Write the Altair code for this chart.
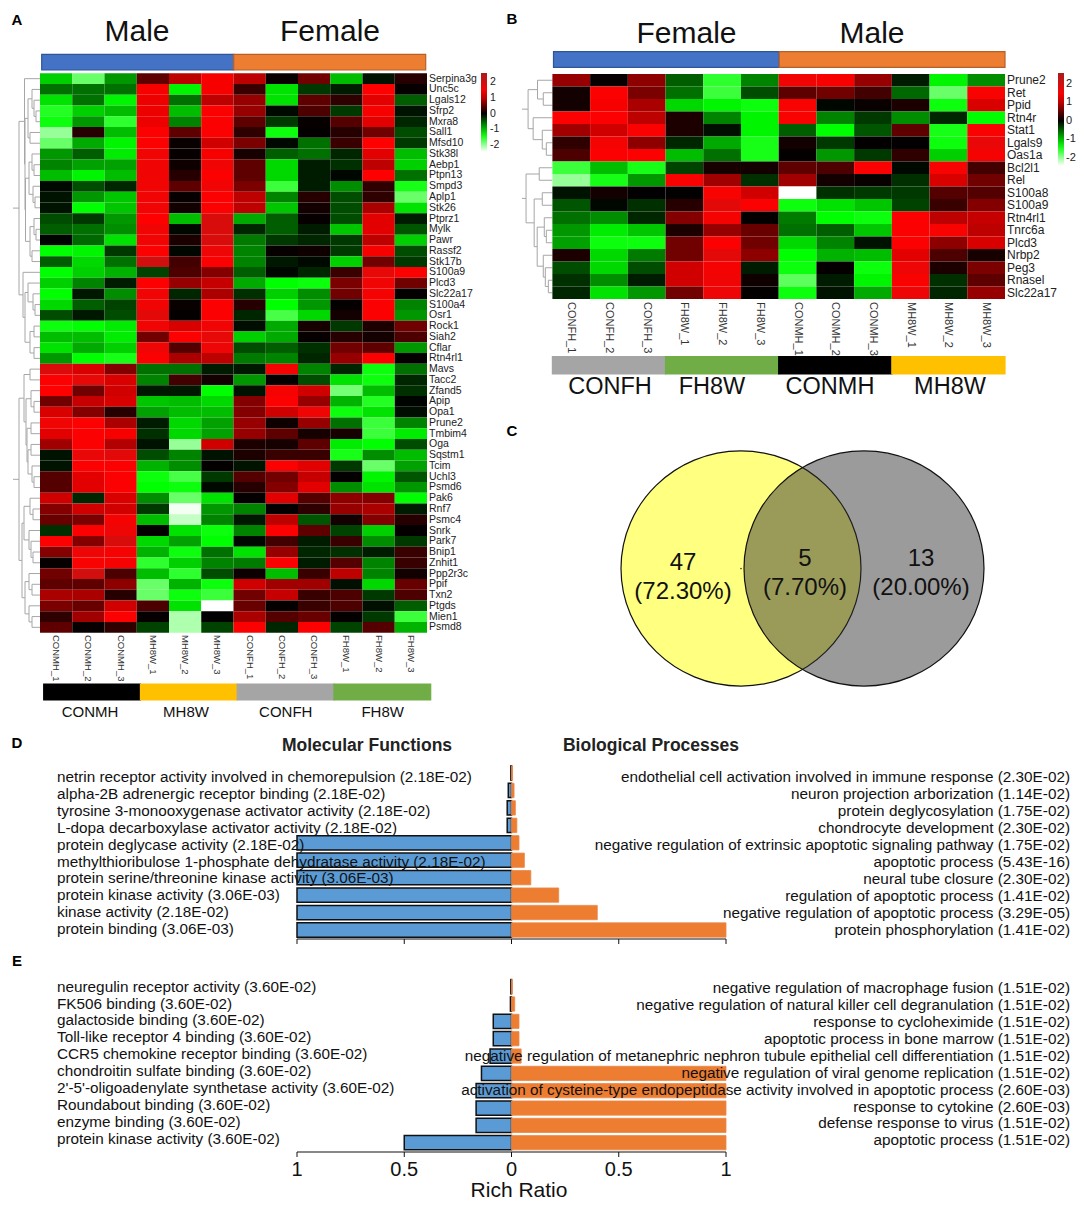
import altair as alt
import pandas as pd

FONT = "Liberation Sans"
W, H = 1068, 1193

genes_a = ["Serpina3g","Unc5c","Lgals12","Sfrp2","Mxra8","Sall1","Mfsd10","Stk38l","Aebp1","Ptpn13","Smpd3","Aplp1","Stk26","Ptprz1","Mylk","Pawr","Rassf2","Stk17b","S100a9","Plcd3","Slc22a17","S100a4","Osr1","Rock1","Siah2","Cflar","Rtn4rl1","Mavs","Tacc2","Zfand5","Apip","Opa1","Prune2","Tmbim4","Oga","Sqstm1","Tcim","Uchl3","Psmd6","Pak6","Rnf7","Psmc4","Snrk","Park7","Bnip1","Znhit1","Ppp2r3c","Ppif","Txn2","Ptgds","Mien1","Psmd8"]
samples_a = ["CONMH_1","CONMH_2","CONMH_3","MH8W_1","MH8W_2","MH8W_3","CONFH_1","CONFH_2","CONFH_3","FH8W_1","FH8W_2","FH8W_3"]
values_a = [
[-1.1,-1.8,-0.8,0.5,1.0,1.3,1.0,0.05,0.6,-1.0,-0.1,0.2],
[-0.6,-0.6,-0.6,1.3,-1.3,1.3,0.3,-1.2,-0.3,-0.15,1.35,0.03],
[-1.2,-0.6,-1.3,1.25,-0.6,1.0,0.8,-1.2,0.5,0.25,1.2,-0.5],
[-1.5,-1.1,-1.0,1.25,-1.0,1.4,0.8,-0.05,0.4,-0.3,1.3,-0.1],
[-1.4,-0.8,-1.55,1.25,-0.7,1.4,0.5,-0.3,0.03,0.45,1.2,-0.2],
[-2.0,0.2,-1.0,1.4,0.5,1.4,0.25,-1.4,0.02,0.2,0.6,-0.4],
[-1.8,-0.9,-1.3,1.4,0.05,1.1,0.65,-0.05,-0.6,0.3,1.35,-0.3],
[-0.8,-0.5,-1.25,1.55,0.03,1.3,0.12,-0.5,-0.6,-0.2,1.2,-1.0],
[-0.7,-0.85,-0.85,1.55,0.08,1.55,0.5,-1.15,-0.15,-0.25,1.0,-1.1],
[-1.0,-1.3,-1.0,1.55,0.2,1.4,0.5,-1.15,-0.15,-0.03,1.35,-0.6],
[-0.05,-0.4,-0.2,1.55,0.5,1.55,0.65,-1.6,-0.15,-0.75,0.25,-1.45],
[-0.1,-0.8,-1.05,1.55,0.03,1.4,1.0,-0.7,0.2,-0.4,0.25,-1.8],
[-0.1,-1.35,-1.05,1.55,0.1,1.4,1.0,-1.05,0.1,-0.4,0.9,-1.2],
[-0.4,-0.3,-0.8,1.35,-1.0,1.9,-0.9,-0.5,0.03,-0.4,1.2,-0.15],
[-0.5,-0.6,-0.75,1.55,-0.03,1.9,-0.2,-0.5,-0.15,-1.05,1.2,-0.45],
[-0.02,-0.55,-1.2,1.55,0.15,1.9,-0.65,-0.3,-0.2,-0.3,1.0,-1.1],
[-1.35,-1.3,-0.3,1.4,-0.03,1.6,-0.7,0.03,0.08,-0.3,1.3,-0.4],
[-0.5,-1.15,-0.6,2.0,0.35,1.4,-0.7,-0.12,-0.05,-1.1,0.6,-0.3],
[-1.35,-1.1,-0.95,-0.35,0.4,0.7,-0.5,-0.03,-0.2,0.3,1.7,1.4],
[-1.1,-0.7,-0.15,1.4,0.8,1.05,-0.9,-1.35,-1.4,0.65,1.55,0.6],
[-1.35,-0.12,-0.75,1.55,-0.2,0.9,-0.25,-1.1,-0.75,0.6,1.5,0.02],
[-1.15,-0.5,-0.35,1.55,0.05,1.4,0.2,-1.35,-0.8,0.02,1.4,-0.7],
[-0.4,-0.12,-0.4,1.75,0.02,1.4,-0.2,-1.65,-1.15,0.1,1.4,-0.8],
[-1.4,-1.35,-1.25,1.55,1.15,1.55,-0.07,-0.9,0.12,-0.3,0.15,0.6],
[-1.0,-1.0,-1.25,0.6,1.4,1.7,-1.1,-0.9,0.03,0.2,0.1,0.4],
[-1.2,-0.9,-1.1,1.6,0.45,1.6,-0.4,-0.5,-0.25,0.6,0.5,-0.8],
[-0.8,-1.35,-1.45,1.4,0.9,1.0,-0.65,-0.7,-0.2,0.8,1.4,0.02],
[1.85,1.15,0.7,-0.6,-0.6,-0.15,-0.12,1.5,-0.7,-0.2,-1.4,-0.6],
[1.4,1.7,1.15,-0.7,0.35,0.1,-0.8,0.02,-0.4,-1.2,-1.4,-0.2],
[1.35,0.6,1.1,-0.12,-0.12,-1.35,-0.1,1.5,1.1,-1.85,-1.0,-0.25],
[0.6,1.05,1.15,-1.05,-1.0,-1.15,0.7,1.4,0.8,-0.95,-1.5,-0.02],
[1.15,0.7,0.2,-0.85,-1.0,-1.0,0.7,1.1,1.55,-1.4,-1.2,-0.07],
[1.55,1.4,0.9,-0.15,-1.15,-0.85,0.8,0.08,0.8,-0.6,-1.6,-0.7],
[1.2,1.4,1.3,-0.25,-1.15,-0.85,0.8,0.5,0.12,0.12,-1.6,-1.25],
[0.85,1.4,0.95,-0.1,-2.0,1.1,0.15,0.12,0.5,-1.25,-1.35,-0.4],
[-0.1,1.65,1.75,-0.4,-0.7,-0.1,0.15,0.3,0.3,-1.45,-0.75,-1.0],
[-0.1,1.4,1.4,-0.95,-0.75,0.02,-0.1,1.4,1.2,-0.3,-1.8,-0.85],
[0.45,1.2,1.4,-1.4,-1.65,-0.3,0.45,0.6,1.05,0.02,-1.3,-0.45],
[0.45,1.2,1.4,-1.35,-1.4,-0.05,0.2,0.7,1.2,-0.75,-1.2,-0.8],
[1.1,-0.2,1.15,-0.75,-1.8,-1.2,0.02,1.2,0.45,0.75,0.7,-1.35],
[0.7,1.1,1.1,-0.3,-2.4,-0.8,-0.7,0.02,0.25,0.8,0.9,-0.15],
[0.55,0.65,1.5,-1.0,-2.2,-0.7,-0.12,1.0,-0.45,0.1,0.7,0.2],
[-0.25,1.4,1.6,0.02,-1.2,-1.4,-0.7,1.4,0.5,-0.35,-1.1,0.02],
[1.4,0.7,1.9,-1.15,-0.85,-1.35,-0.03,0.35,-0.15,0.3,-0.75,-0.3],
[0.7,1.6,1.5,-0.95,-1.4,-0.6,-1.2,0.8,-0.2,-0.25,-0.15,0.3],
[0.03,1.45,1.5,-1.55,-1.1,-0.7,-0.65,1.4,-0.15,0.45,-0.7,0.3],
[0.6,2.0,0.4,-1.0,-1.55,-0.4,0.07,-1.0,0.3,1.0,-0.7,0.1],
[0.5,0.5,0.75,-1.8,-0.95,-1.4,1.1,0.85,0.85,-0.08,-1.15,0.55],
[0.9,0.9,0.2,-1.8,-1.4,-1.6,0.6,1.05,0.3,0.4,-0.3,0.4],
[0.65,0.55,1.1,0.4,-1.2,-2.45,0.55,0.02,0.3,0.4,-0.08,-0.5],
[0.25,0.85,1.4,0.03,-2.1,0.01,0.9,0.45,0.55,0.02,-0.3,-1.6],
[0.5,0.03,0.25,-0.35,-2.1,-0.35,1.4,-0.2,1.4,-0.35,0.45,-0.95],
]
genes_b = ["Prune2","Ret","Ppid","Rtn4r","Stat1","Lgals9","Oas1a","Bcl2l1","Rel","S100a8","S100a9","Rtn4rl1","Tnrc6a","Plcd3","Nrbp2","Peg3","Rnasel","Slc22a17"]
samples_b = ["CONFH_1","CONFH_2","CONFH_3","FH8W_1","FH8W_2","FH8W_3","CONMH_1","CONMH_2","CONMH_3","MH8W_1","MH8W_2","MH8W_3"]
values_b = [
[0.8,0.04,0.75,-0.5,-1.55,-0.7,1.55,1.3,0.8,-0.15,-1.3,-0.75],
[0.1,1.4,0.65,-0.6,-1.6,-0.4,0.5,0.6,0.35,-0.55,-1.8,1.45],
[0.1,1.3,0.9,-1.15,-1.3,-1.4,1.45,-0.03,0.05,0.15,-1.4,1.15],
[1.4,1.4,1.0,0.15,-0.7,-1.3,1.45,-0.7,-0.3,-0.75,-0.2,-1.35],
[0.85,1.1,1.4,0.15,-0.08,-1.3,-0.5,-1.35,-0.45,0.5,-1.45,1.45],
[0.25,1.5,0.75,-0.2,-0.9,-1.45,0.1,-0.3,0.01,0.01,-1.4,1.65],
[0.4,1.4,1.4,-1.0,-0.6,-1.45,0.02,-0.8,-0.3,0.25,-1.1,1.5],
[-1.6,-1.0,-1.45,-0.35,0.12,0.1,0.5,0.4,1.4,-0.05,1.45,0.35],
[-2.0,-1.45,-0.8,1.45,0.85,-0.25,0.85,0.1,0.05,-0.25,1.15,0.6],
[-0.1,0.1,0.01,0.01,1.45,1.1,-2.45,-0.25,-0.3,-0.3,0.45,0.45],
[-0.45,-0.03,-0.25,0.2,1.75,1.4,-1.4,-1.2,-1.05,-0.35,0.3,0.7],
[-0.6,-0.75,-0.2,0.7,1.5,0.02,-0.65,-1.35,-1.4,1.4,1.0,1.05],
[-0.8,-1.25,-1.05,0.15,0.8,0.55,-0.6,-0.5,-1.05,1.4,1.45,1.0],
[-0.85,-1.4,-1.4,0.6,1.4,0.6,-1.15,-0.7,-0.1,1.4,0.75,1.15],
[0.15,-1.15,-0.65,0.6,1.75,0.75,-1.35,-0.95,-1.0,1.2,0.4,0.12],
[-0.4,-1.15,-0.4,1.1,1.5,-0.15,-1.4,0.02,-1.4,1.6,0.15,0.65],
[-0.25,-0.75,-0.15,1.1,1.55,0.08,-1.75,-0.15,-1.3,1.45,-0.25,0.5],
[-0.2,-1.2,-0.8,0.6,1.6,0.02,-1.4,-0.1,-0.9,1.6,-0.2,0.8],
]

# dendrograms: (height, child, child); an integer child is a heatmap row
tree_a_top = (21, (15.5, 0, (15, (12, (8, 1, (6, 2, (4, 3, 4))), (10, 5, 6)),
                             (14.5, (11, (8, 7, (6, 8, 9)), (7, 10, (5, 11, 12))),
                                    (10, (6, 13, (4, 14, 15)), (8, 16, 17))))),
                  (17, 18, (15, (12, 19, (7, 20, (5, 21, 22))), (10, (6, 23, 24), (6, 25, 26)))))
tree_a_bot = (21, (16, (10, 27, 28), (14, (9, 29, (6, 30, 31)), (13, (9, 32, 33), (12, (9, 34, 35), (8, 36, (6, 37, 38)))))),
                  (18, (16, (10, 39, (7, 40, 41)), (11, 42, (9, 43, (7, 44, 45)))),
                       (15, (11, 46, (8, 47, 48)), (11, 49, (8, 50, 51)))))
tree_b_top = (24, (14.7, 0, (9, 1, 2)), (19, 3, (10, 4, (6, 5, 6))))
tree_b_bot = (26, (13, 7, 8), (18, (10, 9, 10), (15, (8, 11, (6, 12, 13)), (9, 14, (7, 15, (4, 16, 17))))))

mf_d = ["netrin receptor activity  involved in chemorepulsion (2.18E-02)","alpha-2B adrenergic receptor binding (2.18E-02)","tyrosine 3-monooxygenase activator activity  (2.18E-02)","L-dopa decarboxylase activator activity  (2.18E-02)","protein deglycase activity (2.18E-02)","methylthioribulose 1-phosphate dehydratase activity (2.18E-02)","protein serine/threonine kinase activity (3.06E-03)","protein kinase activity (3.06E-03)","kinase activity  (2.18E-02)","protein binding (3.06E-03)"]
mf_d_ratio = [0.003,0.015,0.02,0.02,1,1,1,1,1,1]
bp_d = ["endothelial cell activation involved in immune response (2.30E-02)","neuron projection arborization (1.14E-02)","protein deglycosylation (1.75E-02)","chondrocyte development (2.30E-02)","negative regulation of extrinsic apoptotic signaling pathway (1.75E-02)","apoptotic process (5.43E-16)","neural tube closure (2.30E-02)","regulation of apoptotic process (1.41E-02)","negative regulation of apoptotic process (3.29E-05)","protein phosphorylation (1.41E-02)"]
bp_d_ratio = [0.005,0.012,0.018,0.025,0.035,0.06,0.09,0.22,0.4,1]
mf_e = ["neuregulin receptor activity  (3.60E-02)","FK506 binding (3.60E-02)","galactoside binding (3.60E-02)","Toll-like receptor 4 binding (3.60E-02)","CCR5 chemokine receptor binding (3.60E-02)","chondroitin sulfate binding (3.60E-02)","2'-5'-oligoadenylate synthetase activity  (3.60E-02)","Roundabout binding (3.60E-02)","enzyme binding (3.60E-02)","protein kinase activity  (3.60E-02)"]
mf_e_ratio = [0.003,0.005,0.085,0.085,0.1,0.14,0.165,0.165,0.165,0.5]
bp_e = ["negative regulation of macrophage fusion (1.51E-02)","negative regulation of natural killer cell degranulation (1.51E-02)","response to cycloheximide (1.51E-02)","apoptotic process in bone marrow (1.51E-02)","negative regulation of metanephric nephron tubule epithelial cell differentiation (1.51E-02)","negative regulation of viral genome replication (1.51E-02)","activation of cysteine-type endopeptidase activity involved in apoptotic process (2.60E-03)","response to cytokine (2.60E-03)","defense response to virus (1.51E-02)","apoptotic process (1.51E-02)"]
bp_e_ratio = [0.004,0.015,0.035,0.035,0.045,1,1,1,1,1]

sex_a = ["Male", "Female"]
sex_b = ["Female", "Male"]
groups_a = ["CONMH", "MH8W", "CONFH", "FH8W"]
groups_b = ["CONFH", "FH8W", "CONMH", "MH8W"]
group_colors = {"CONMH": "#000000", "MH8W": "#ffc000", "CONFH": "#a5a5a5", "FH8W": "#70ad47"}
ticks = [-1, -0.5, 0, 0.5, 1]
tick_labels = ["1", "0.5", "0", "0.5", "1"]
venn_counts = ["47", "5", "13"]
venn_shares = ["(72.30%)", "(7.70%)", "(20.00%)"]

X = lambda px: px - 8
Y = lambda px: px - 8
layers = []


def label(s, x, y, size, bold=False, color="#111111", align="center"):
    layers.append(alt.Chart(pd.DataFrame({"t": [s]})).mark_text(
        font=FONT, fontSize=size, fontWeight="bold" if bold else "normal",
        color=color, align=align, baseline="middle"
    ).encode(text="t:N", x=alt.value(X(x)), y=alt.value(Y(y))))


def heatmap(genes, samples, values, x0, x1, y0, y1, legx, legy, leglen, gene_x, gene_size, samp_y, samp_size, leg_size, leg_off):
    rows = [{"gene": g, "sample": s, "z": v}
            for g, r in zip(genes, values) for s, v in zip(samples, r)]
    xs = alt.Scale(domain=samples, range=[X(x0), X(x1)], paddingInner=0, paddingOuter=0)
    ys = alt.Scale(domain=genes, range=[Y(y0), Y(y1)], paddingInner=0, paddingOuter=0)
    layers.append(alt.Chart(pd.DataFrame(rows)).mark_rect().encode(
        x=alt.X("sample:N", scale=xs, axis=None),
        y=alt.Y("gene:N", scale=ys, axis=None),
        color=alt.Color("z:Q", scale=alt.Scale(domain=[-2.45, -1.35, 0, 1.35, 2.6],
                        range=["#ffffff", "#00ff00", "#000000", "#ff0000", "#a81c1c"], interpolate="rgb"),
                        legend=alt.Legend(orient="none", legendX=X(legx), legendY=Y(legy), title=None,
                                          gradientLength=leglen, gradientThickness=6, values=[-2, -1, 0, 1, 2],
                                          labelFontSize=leg_size, labelFont=FONT, labelColor="#222222",
                                          labelOffset=leg_off, tickCount=5, padding=0, direction="vertical",
                                          labelExpr="datum.value", labelOverlap=False)),
    ))
    layers.append(alt.Chart(pd.DataFrame({"gene": genes})).mark_text(
        font=FONT, fontSize=gene_size, align="left", baseline="middle", color="#222222"
    ).encode(y=alt.Y("gene:N", scale=ys, axis=None), x=alt.value(X(gene_x)), text="gene:N"))
    layers.append(alt.Chart(pd.DataFrame({"sample": samples})).mark_text(
        font=FONT, fontSize=samp_size, align="left", baseline="middle", angle=90, color="#333333"
    ).encode(x=alt.X("sample:N", scale=xs, axis=None), y=alt.value(Y(samp_y)), text="sample:N"))


def tree_segments(tree, stem):
    segs = []

    def walk(n):
        if isinstance(n, int):
            return n + 0.5, 0
        h, a, b = n
        ya, ha = walk(a)
        yb, hb = walk(b)
        segs.append((h, ya, h, yb))
        segs.append((ha, ya, h, ya))
        segs.append((hb, yb, h, yb))
        return (ya + yb) / 2, h

    y, h = walk(tree)
    segs.append((h, y, stem, y))
    return segs


def dendro(trees, stem, nrows, xroot, xleaf, y0, y1):
    segs = [s for t in trees for s in tree_segments(t, stem)]
    df = pd.DataFrame(segs, columns=["h1", "y1", "h2", "y2"])
    xs = alt.Scale(domain=[0, stem], range=[X(xleaf), X(xroot)])
    ys = alt.Scale(domain=[0, nrows], range=[Y(y0), Y(y1)])
    layers.append(alt.Chart(df).mark_rule(color="#a6a6a6", strokeWidth=1).encode(
        x=alt.X("h1:Q", scale=xs, axis=None), x2="h2:Q",
        y=alt.Y("y1:Q", scale=ys, axis=None), y2="y2:Q"))


def strip(names, colors, strokes, x0, x1, y0, y1):
    df = pd.DataFrame({"g": names, "c": colors, "s": strokes})
    layers.append(alt.Chart(df).mark_rect(strokeWidth=1.2).encode(
        x=alt.X("g:N", scale=alt.Scale(domain=names, range=[X(x0), X(x1)], paddingInner=0, paddingOuter=0), axis=None),
        y=alt.value(Y(y0)), y2=alt.value(Y(y1)),
        fill=alt.Fill("c:N", scale=None), stroke=alt.Stroke("s:N", scale=None)))


def bars(names, ratio, sign, fill, stroke, sw, band):
    df = pd.DataFrame({"t": names, "v": [sign * r for r in ratio]})
    layers.append(alt.Chart(df).mark_bar(fill=fill, stroke=stroke, strokeWidth=sw).encode(
        x=alt.X("v:Q", scale=alt.Scale(domain=[-1, 1], range=[X(297), X(726)]), axis=None),
        y=alt.Y("t:N", scale=alt.Scale(domain=names, range=[Y(band[0]), Y(band[1])], paddingInner=0.18, paddingOuter=0.09), axis=None)))


def bar_labels(names, band, x, align):
    df = pd.DataFrame({"t": names})
    layers.append(alt.Chart(df).mark_text(
        font=FONT, fontSize=15.3, align=align, baseline="middle", color="#111111"
    ).encode(y=alt.Y("t:N", scale=alt.Scale(domain=names, range=[Y(band[0]), Y(band[1])], paddingInner=0, paddingOuter=0), axis=None),
             x=alt.value(X(x)), text="t:N"))


def axis_line(y):
    df = pd.DataFrame({"a": [-1], "b": [1]})
    xs = alt.Scale(domain=[-1, 1], range=[X(297), X(726)])
    layers.append(alt.Chart(df).mark_rule(color="#111111", strokeWidth=1.2).encode(
        x=alt.X("a:Q", scale=xs, axis=None), x2="b:Q", y=alt.value(Y(y))))
    layers.append(alt.Chart(pd.DataFrame({"a": ticks})).mark_rule(color="#111111", strokeWidth=1).encode(
        x=alt.X("a:Q", scale=xs, axis=None), y=alt.value(Y(y)), y2=alt.value(Y(y + 5))))


# Panel A
dendro([tree_a_top, tree_a_bot], 27, 52, 13, 40, 73.3, 632.7)
heatmap(genes_a, samples_a, values_a, 40, 427, 73.3, 632.7, 481, 73, 79, 429, 10.5, 635, 9.5, 10.5, 3)
strip(sex_a, ["#4472c4", "#ed7d31"], ["#2f5597", "#b5602a"], 41.7, 425.7, 54.3, 70)
strip(groups_a, [group_colors[g] for g in groups_a], [group_colors[g] for g in groups_a], 43.7, 430.7, 684, 700)
label("Male", 137, 32, 30)
label("Female", 330, 32, 30)
for g, cx in zip(groups_a, [90, 186, 285.7, 382.7]):
    label(g, cx, 712, 15)

# Panel B
dendro([tree_b_top, tree_b_bot], 30, 18, 522, 552.4, 74, 299)
heatmap(genes_b, samples_b, values_b, 552.4, 1005, 74, 299, 1058, 73, 93, 1007, 12, 302, 11, 11, 2)
strip(sex_b, ["#4472c4", "#ed7d31"], ["#2f5597", "#b5602a"], 553.5, 1005, 51.7, 67.3)
strip(groups_b, [group_colors[g] for g in groups_b], [group_colors[g] for g in groups_b], 552.4, 1005, 356.7, 374)
label("Female", 686.5, 34, 30)
label("Male", 872, 34, 30)
for g, cx in zip(groups_b, [610, 712, 830, 950]):
    label(g, cx, 387, 23.5)

# Panel C
ELLIPSE = "M-1,0A1,0.98,0,1,1,1,0A1,0.98,0,1,1,-1,0Z"
one = pd.DataFrame({"n": [1]})
layers.append(alt.Chart(one).mark_point(shape=ELLIPSE, size=240 ** 2, filled=True, fill="#ffff80", stroke="#111111",
                                        strokeWidth=1.2, opacity=1).encode(x=alt.value(X(741)), y=alt.value(Y(568.5))))
layers.append(alt.Chart(one).mark_point(shape=ELLIPSE, size=240 ** 2, filled=True, fill="#2d2d2d", fillOpacity=0.48,
                                        stroke="#111111", strokeWidth=1.2, opacity=1).encode(x=alt.value(X(864)), y=alt.value(Y(568.5))))
layers.append(alt.Chart(one).mark_point(shape="circle", size=3, filled=True, fill="#444444", opacity=1).encode(
    x=alt.value(X(741)), y=alt.value(Y(568.5))))
for c, s, cx, y1, y2 in zip(venn_counts, venn_shares, [683, 805, 921], [562.5, 559, 559], [591.5, 588, 588]):
    label(c, cx, y1, 24)
    label(s, cx, y2, 24)

# Panels D and E
bars(mf_d, mf_d_ratio, -1, "#5b9bd5", "#111111", 1.5, (764.3, 938.7))
bars(bp_d, bp_d_ratio, 1, "#ed7d31", "#e8884a", 0.8, (764.3, 938.7))
axis_line(939)
bars(mf_e, mf_e_ratio, -1, "#5b9bd5", "#111111", 1.5, (978, 1151.4))
bars(bp_e, bp_e_ratio, 1, "#ed7d31", "#e8884a", 0.8, (978, 1151.4))
axis_line(1152)
bar_labels(mf_d, (768.5, 937.7), 57, "left")
bar_labels(bp_d, (768.5, 938.5), 1070, "right")
bar_labels(mf_e, (978.2, 1147.2), 57, "left")
bar_labels(bp_e, (979.8, 1148.8), 1070, "right")
label("Molecular Functions", 367, 745.5, 17.5, bold=True, color="#222222")
label("Biological Processes", 651, 745.5, 17.5, bold=True, color="#222222")
layers.append(alt.Chart(pd.DataFrame({"a": ticks, "t": tick_labels})).mark_text(
    font=FONT, fontSize=20, baseline="middle", color="#111111"
).encode(x=alt.X("a:Q", scale=alt.Scale(domain=[-1, 1], range=[X(297), X(726)]), axis=None),
         y=alt.value(Y(1170)), text="t:N"))
label("Rich Ratio", 519, 1191, 21)

for s, x, y in [("A", 17, 20), ("B", 512, 19), ("C", 512, 431), ("D", 17, 743), ("E", 17, 961)]:
    label(s, x, y, 15, bold=True, color="#000000")

chart = alt.layer(*layers).resolve_scale(
    x="independent", y="independent", color="independent"
).properties(width=W, height=H, padding=0, autosize=alt.AutoSizeParams(type="none")).configure_view(stroke=None)

chart.save("out.html", embed_options={"renderer": "svg", "actions": False})
